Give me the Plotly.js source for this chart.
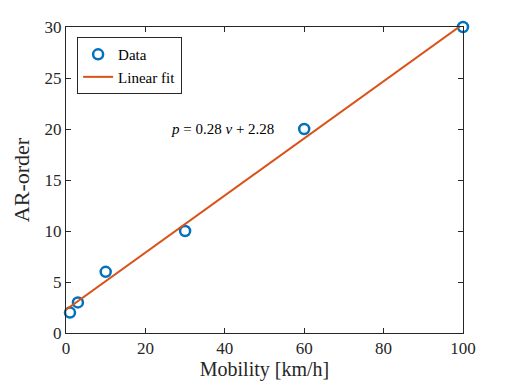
<!DOCTYPE html>
<html>
<head>
<meta charset="utf-8">
<script src="https://cdn.plot.ly/plotly-3.0.1.min.js"></script>
<style>
  html, body { margin: 0; padding: 0; background: #fff; }
  #plot { width: 512px; height: 384px; }
</style>
</head>
<body>
<div id="plot"></div>
<script>
const FONT = 'Liberation Serif, DejaVu Serif, serif';

const mobility = [1, 3, 10, 30, 60, 100];
const arOrder = [2, 3, 6, 10, 20, 30];

const fitX = [0, 100];
const fitY = [2.28, 30.28];

const xTicks = [0, 20, 40, 60, 80, 100];
const yTicks = [0, 5, 10, 15, 20, 25, 30];

const AXIS_BASE = {
  showline: true,
  linecolor: '#262626',
  linewidth: 1,
  mirror: 'ticks',
  ticks: 'inside',
  ticklen: 5,
  tickcolor: '#262626',
  showgrid: false,
  zeroline: false,
  tickfont: {family: FONT, size: 17, color: '#262626'},
};

const traceData = {
  x: mobility,
  y: arOrder,
  mode: 'markers',
  name: 'Data',
  cliponaxis: false,
  marker: {
    symbol: 'circle-open',
    size: 10,
    color: '#0072BD',
    line: {width: 2.5, color: '#0072BD'},
  },
};

const traceFit = {
  x: fitX,
  y: fitY,
  mode: 'lines',
  name: 'Linear fit',
  line: {color: '#D95319', width: 2},
};

const layout = {
  width: 512,
  height: 384,
  margin: {l: 66, r: 49, t: 27, b: 51},
  paper_bgcolor: '#fff',
  plot_bgcolor: '#fff',
  showlegend: true,
  legend: {
    x: 0.028, y: 0.967,
    xanchor: 'left', yanchor: 'top',
    bordercolor: '#262626', borderwidth: 1,
    bgcolor: '#fff',
    font: {family: FONT, size: 15, color: '#000'},
    tracegroupgap: 0,
    itemwidth: 30,
  },
  xaxis: Object.assign({}, AXIS_BASE, {
    range: [0, 100],
    tickvals: xTicks,
    title: {text: 'Mobility [km/h]', font: {family: FONT, size: 20, color: '#262626'}, standoff: 3},
  }),
  yaxis: Object.assign({}, AXIS_BASE, {
    range: [0, 30],
    tickvals: yTicks,
    title: {text: 'AR-order', font: {family: FONT, size: 22, color: '#262626'}, standoff: 8},
  }),
  annotations: [{
    x: 39.3, y: 20,
    xref: 'x', yref: 'y',
    text: '<i>p</i> = 0.28 <i>v</i> + 2.28',
    showarrow: false,
    font: {family: FONT, size: 15, color: '#000'},
  }],
};

Plotly.newPlot('plot', [traceData, traceFit], layout, {displayModeBar: false, staticPlot: true});
</script>
</body>
</html>
